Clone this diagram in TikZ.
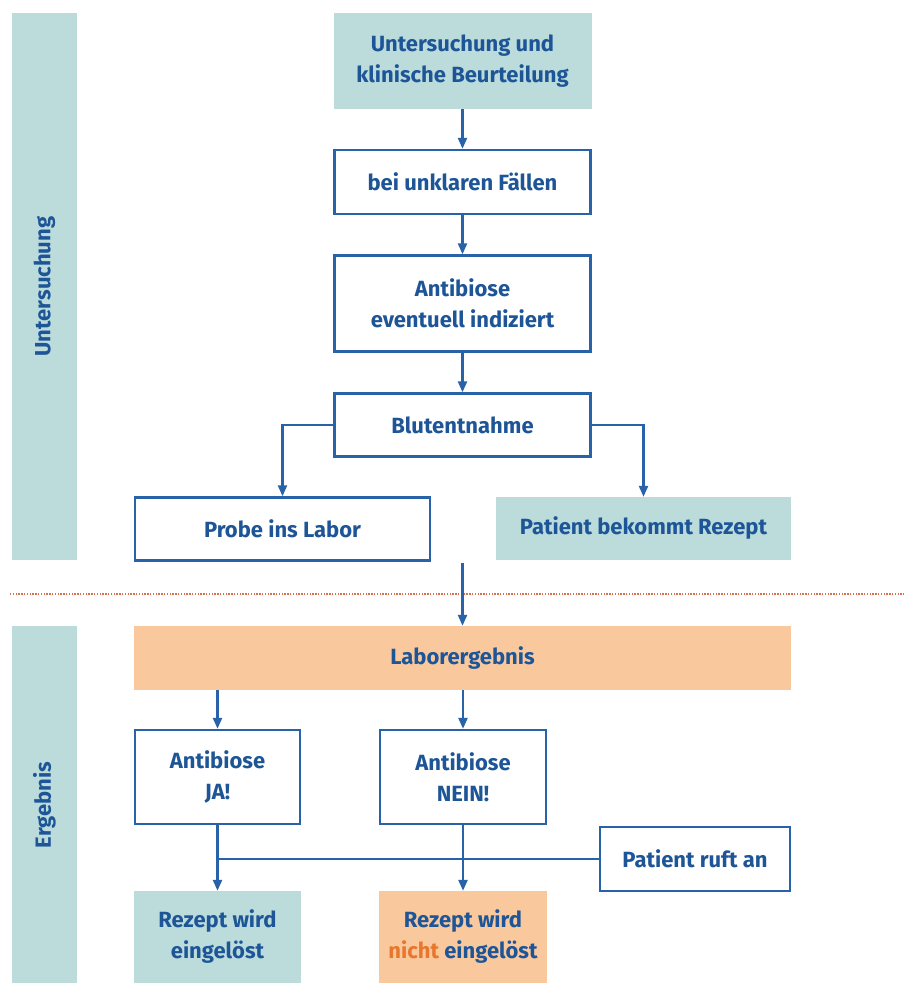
\documentclass[tikz,border=0pt]{standalone}
\usepackage{fontspec}
\setmainfont{Fira Sans}
\usetikzlibrary{arrows.meta}
\definecolor{teal}{HTML}{BCDCDC}
\definecolor{peach}{HTML}{F9C89D}
\definecolor{txtblue}{HTML}{1D5597}
\definecolor{lineblue}{HTML}{2862A8}
\definecolor{nichtor}{HTML}{E8772E}
\definecolor{dotred}{HTML}{D9714F}
\tikzset{
  base/.style={inner sep=0pt, align=center, text=txtblue, font=\bfseries\fontsize{22}{31}\selectfont},
  wbox/.style={base, draw=lineblue, line width=2.4pt, fill=white},
  tbox/.style={base, fill=teal},
  obox/.style={base, fill=peach},
  arr/.style={draw=lineblue, line width=2.4pt, -{Triangle[length=11pt,width=9pt]}},
  ln/.style={draw=lineblue, line width=2.4pt},
  band/.style={fill=teal, inner sep=0pt},
}
\begin{document}
\begin{tikzpicture}[x=1pt,y=-1pt]
\useasboundingbox (0,0) rectangle (904,983);
% side bands
\node[band, minimum width=65pt, minimum height=547pt] (bandU) at (44.5,286.5) {};
\node[base, rotate=90] (labU) at (44.5,286.5) {Untersuchung};
\node[band, minimum width=65pt, minimum height=360pt] (bandE) at (44.5,806) {};
\node[base, rotate=90] (labE) at (44.5,805) {Ergebnis};
% separator
\draw[dotred, line width=1.4pt, dash pattern=on 1.4pt off 1.4pt] (10,594) -- (904,594);
% top section
\node[tbox, minimum width=258pt, minimum height=96pt] (b1) at (462.5,61) {Untersuchung und\\klinische Beurteilung};
\node[wbox, minimum width=256pt, minimum height=64pt] (b2) at (462.5,182) {bei unklaren Fällen};
\node[wbox, minimum width=256pt, minimum height=96pt] (b3) at (462.5,303.5) {Antibiose\\eventuell indiziert};
\node[wbox, minimum width=256pt, minimum height=63pt] (b4) at (462.5,425) {Blutentnahme};
\node[wbox, minimum width=295pt, minimum height=63pt] (probe) at (282.5,529) {Probe ins Labor};
\node[tbox, minimum width=295pt, minimum height=63pt] (rez) at (643.5,528.5) {Patient bekommt Rezept};
% bottom section
\node[obox, minimum width=657pt, minimum height=64pt] (labor) at (462.5,658) {Laborergebnis};
\node[wbox, minimum width=165pt, minimum height=94pt] (ja) at (217.5,777) {Antibiose\\JA!};
\node[wbox, minimum width=166pt, minimum height=94pt] (nein) at (463,777) {Antibiose\\NEIN!};
\node[wbox, minimum width=190pt, minimum height=64pt] (ruft) at (695,859) {Patient ruft an};
\node[tbox, minimum width=167pt, minimum height=92pt] (ok) at (217.5,937) {Rezept wird\\eingelöst};
\node[obox, minimum width=168pt, minimum height=92pt] (nok) at (463,937) {Rezept wird\\\textcolor{nichtor}{nicht} eingelöst};
% connectors
\draw[arr] (b1) -- (b2);
\draw[arr] (b2) -- (b3);
\draw[arr] (b3) -- (b4);
\draw[arr] (b4.west) -| (probe.north);
\draw[arr] (b4.east) -| (rez.north);
\coordinate (gap) at (462.5,563);
\draw[arr] (gap) -- (labor.north);
\draw[arr] (labor.south -| ja.north) -- (ja.north);
\draw[arr] (labor.south -| nein.north) -- (nein.north);
\draw[arr] (ja) -- (ok);
\draw[arr] (nein) -- (nok);
\draw[ln] (ruft.west) -- (ruft.west -| ja.south);
\end{tikzpicture}
\end{document}
